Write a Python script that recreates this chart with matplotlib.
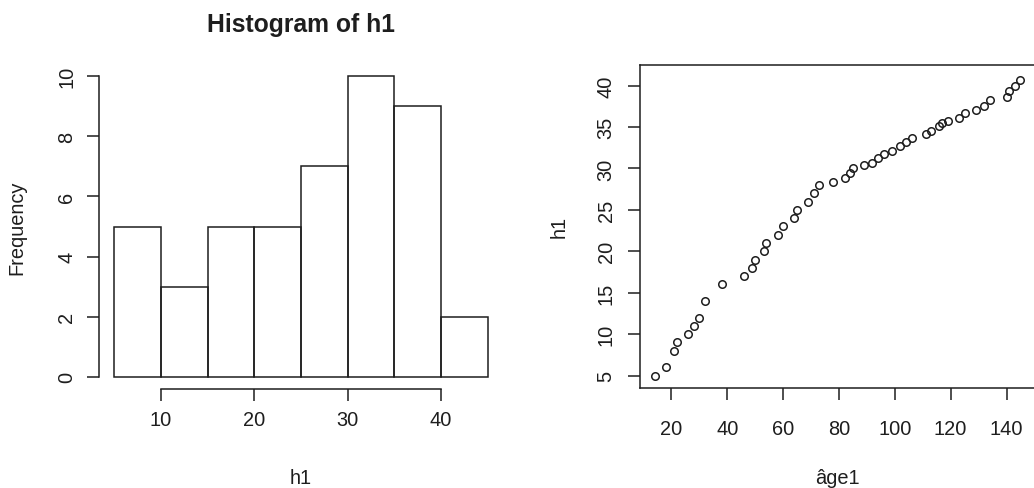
import matplotlib
matplotlib.use("Agg")
import matplotlib.pyplot as plt

plt.rcParams['font.family'] = ['Liberation Sans', 'DejaVu Sans']

# histogram of h1
bin_edges = [5, 10, 15, 20, 25, 30, 35, 40, 45]
counts = [5, 3, 5, 5, 7, 10, 9, 2]

# h1 against age1
age1 = [14, 18, 21, 22, 26, 28, 30, 32, 38, 46, 49, 50, 53, 54, 58, 60, 64, 65,
        69, 71, 73, 78, 82, 84, 85, 89, 92, 94, 96, 99, 102, 104, 106, 111, 113,
        116, 117, 119, 123, 125, 129, 132, 134, 140, 141, 143, 145]
h1 = [5, 6, 8, 9, 10, 11, 12, 14, 16, 17, 18, 19, 20, 21, 22, 23, 24, 25,
      26, 27, 28, 28.4, 28.8, 29.4, 30, 30.4, 30.7, 31.2, 31.7, 32.1, 32.7, 33.2,
      33.7, 34.2, 34.5, 35.1, 35.5, 35.7, 36.1, 36.7, 37.1, 37.5, 38.2, 38.6,
      39.3, 39.9, 40.7]

ink = '#1e1e1e'
fs = 14.4

fig = plt.figure(figsize=(10.34, 4.89), dpi=100)
W, H = 1034, 489

# left panel: histogram, R style axes (no box, spines trimmed to tick range)
ax1 = fig.add_axes([99.4 / W, (H - 389.7) / H, (502.5 - 99.4) / W, (389.7 - 65.3) / H])
widths = [bin_edges[i + 1] - bin_edges[i] for i in range(len(counts))]
ax1.bar(bin_edges[:-1], counts, width=widths, align='edge', fill=False,
        edgecolor=ink, linewidth=1.1)
ax1.set_xlim(3.4, 46.6)
ax1.set_ylim(-0.4, 10.4)
ax1.set_xticks([10, 20, 30, 40])
ax1.set_yticks([0, 2, 4, 6, 8, 10])
ax1.spines['top'].set_visible(False)
ax1.spines['right'].set_visible(False)
ax1.spines['bottom'].set_bounds(10, 40)
ax1.spines['left'].set_bounds(0, 10)
for s in ('bottom', 'left'):
    ax1.spines[s].set_color(ink)
    ax1.spines[s].set_linewidth(1.1)
ax1.tick_params(axis='x', length=8.6, width=1.1, color=ink, labelsize=fs,
                labelcolor=ink, pad=7)
ax1.tick_params(axis='y', length=8.6, width=1.1, color=ink, labelsize=fs,
                labelcolor=ink, pad=8, labelrotation=90)
for lab in ax1.get_yticklabels():
    lab.set_va('center')
ax1.set_title('Histogram of h1', fontsize=17.8, fontweight='bold', color=ink, pad=24)
ax1.set_xlabel('h1', fontsize=fs, color=ink, labelpad=28)
ax1.set_ylabel('Frequency', fontsize=fs, color=ink, labelpad=22)

# right panel: scatter with full box
ax2 = fig.add_axes([640 / W, (H - 388.5) / H, (1035 - 640) / W, (388.5 - 66.3) / H])
ax2.plot(age1, h1, 'o', markerfacecolor='none', markeredgecolor=ink,
         markersize=5.4, markeredgewidth=1.1)
ax2.set_xlim(8.76, 150.2)
ax2.set_ylim(3.56, 42.44)
ax2.set_xticks([20, 40, 60, 80, 100, 120, 140])
ax2.set_yticks([5, 10, 15, 20, 25, 30, 35, 40])
for s in ax2.spines.values():
    s.set_color(ink)
    s.set_linewidth(1.1)
ax2.tick_params(axis='x', length=8.6, width=1.1, color=ink, labelsize=fs,
                labelcolor=ink, pad=14)
ax2.tick_params(axis='y', length=8.6, width=1.1, color=ink, labelsize=fs,
                labelcolor=ink, pad=9, labelrotation=90)
for lab in ax2.get_yticklabels():
    lab.set_va('center')
ax2.set_xlabel('âge1', fontsize=fs, color=ink, labelpad=22)
ax2.set_ylabel('h1', fontsize=fs, color=ink, labelpad=20)

fig.savefig('out.png', dpi=100)
